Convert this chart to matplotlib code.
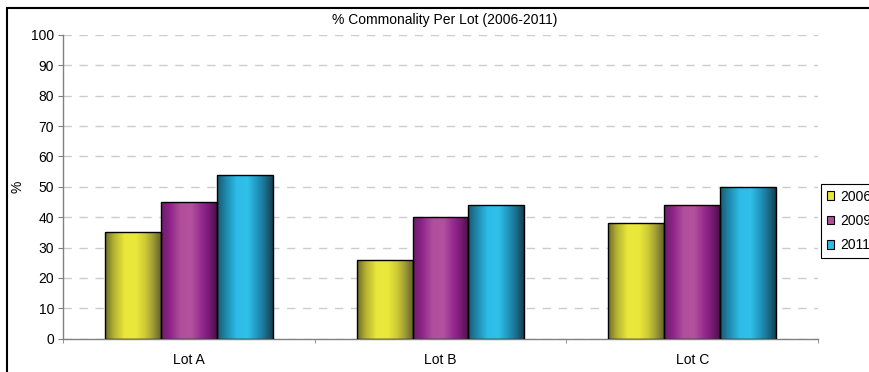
import numpy as np
import matplotlib
matplotlib.use('Agg')
import matplotlib.pyplot as plt
from matplotlib.colors import LinearSegmentedColormap
from matplotlib.patches import Patch, Rectangle

lots = ['Lot A', 'Lot B', 'Lot C']
years = ['2006', '2009', '2011']
pct_2006 = [35, 26, 38]
pct_2009 = [45, 40, 44]
pct_2011 = [54, 44, 50]
series = [pct_2006, pct_2009, pct_2011]

plt.rcParams['font.family'] = ['Liberation Sans', 'DejaVu Sans']
plt.rcParams['font.size'] = 10

# cylinder-style shading across each bar: dark edges, bright middle
shades = [
    ['#6c6c28', '#b3b032', '#e9e73b', '#ebe83c', '#cdca35', '#a3a036', '#66662a'],
    ['#6a2066', '#8c2288', '#b04f9c', '#b2519e', '#962a90', '#7c1c78', '#4a1046'],
    ['#1b5a70', '#1f86aa', '#2dbce8', '#30c0ea', '#2196bf', '#1b7292', '#163f52'],
]
stops = [0.0, 0.15, 0.35, 0.55, 0.72, 0.85, 1.0]
solid = ['#e9e73b', '#b04f9c', '#2dbce8']

fig = plt.figure(figsize=(8.7, 3.72), dpi=100)
ax = fig.add_axes([63/870, 33.3/372, 755/870, 303.7/372])

x = np.arange(len(lots))
w = 1 / 4.5
for i, vals in enumerate(series):
    cmap = LinearSegmentedColormap.from_list('s%d' % i, list(zip(stops, shades[i])))
    grad = cmap(np.linspace(0, 1, 200))[np.newaxis, :, :]
    bars = ax.bar(x + (i - 1) * w, vals, w, facecolor='none',
                  edgecolor='black', linewidth=1.0, zorder=3)
    for b in bars:
        x0, bw, h = b.get_x(), b.get_width(), b.get_height()
        ax.imshow(grad, extent=(x0, x0 + bw, 0, h), aspect='auto',
                  interpolation='bilinear', zorder=2)

ax.set_xlim(-0.5, 2.5)
ax.set_ylim(0, 100)
ax.set_yticks(range(0, 101, 10))
ax.set_xticks(x)
ax.set_xticklabels(lots)
ax.set_xticks([-0.5, 0.5, 1.5, 2.5], minor=True)
ax.tick_params(axis='x', which='major', length=0, pad=10)
ax.tick_params(axis='x', which='minor', length=3, color='#808080', direction='out')
ax.tick_params(axis='y', length=3.5, color='#808080', pad=3)

ax.yaxis.grid(True, color='#cccccc', linestyle=(0, (6, 5.5)), linewidth=1)
ax.set_axisbelow(True)
for s in ['top', 'right']:
    ax.spines[s].set_visible(False)
for s in ['left', 'bottom']:
    ax.spines[s].set_color('#808080')
    ax.spines[s].set_linewidth(1.0)

fig.text(445/870, 1 - 20/372, '% Commonality Per Lot (2006-2011)',
         ha='center', va='center', fontsize=10)
fig.text(18/870, 1 - 187/372, '%', rotation=90, ha='center', va='center', fontsize=10)

handles = [Patch(facecolor=c, edgecolor='black', linewidth=0.8) for c in solid]
leg = fig.legend(handles, years, loc='upper left',
                 bbox_to_anchor=(821/870, 1 - 184/372), fancybox=False,
                 edgecolor='black', framealpha=1, handlelength=0.55,
                 handleheight=0.55, handletextpad=0.45, labelspacing=0.75,
                 borderpad=0.4, borderaxespad=0, fontsize=10)
leg.get_frame().set_linewidth(0.8)

# outer chart border (runs off the right and bottom edges)
fig.patches.append(Rectangle((7/870, -0.1), 1.2, 1.1 - 8/372,
                             transform=fig.transFigure, fill=False,
                             edgecolor='black', linewidth=1.5))

fig.savefig('out.png', dpi=100)
